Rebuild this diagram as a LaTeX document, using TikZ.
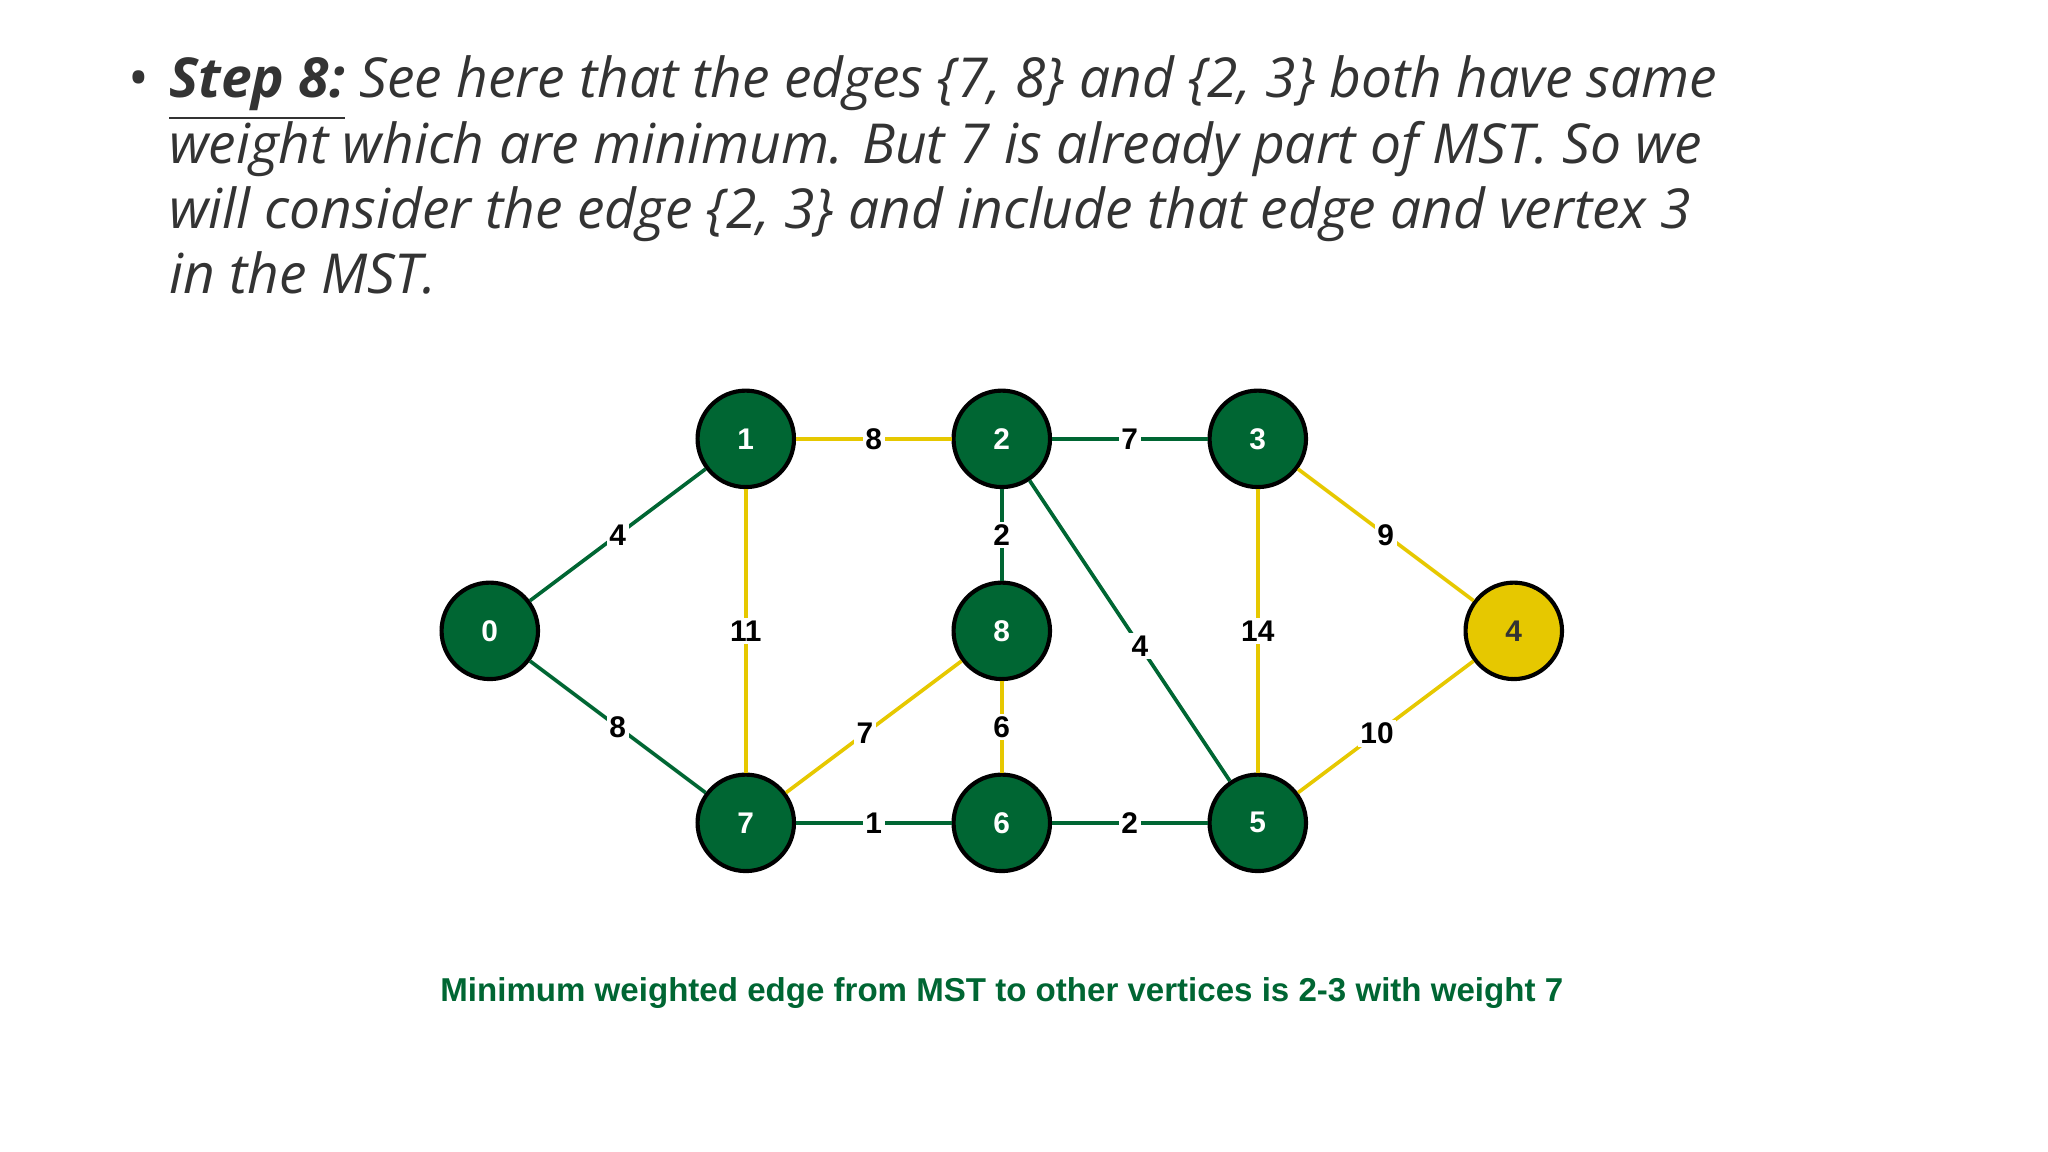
\documentclass[tikz,border=0pt]{standalone}
\usepackage{fontspec}
\setmainfont{Open Sans}
\newfontfamily\capfont{Liberation Sans}
\definecolor{eg}{RGB}{0,102,51}
\definecolor{ey}{RGB}{230,200,0}
\definecolor{tx}{RGB}{51,51,51}
\begin{document}
\begin{tikzpicture}[x=0.01cm,y=-0.01cm,
  vtx/.style={circle,draw=black,line width=0.9pt,fill=eg,minimum size=21pt,inner sep=0pt,text=white,font=\capfont\bfseries\fontsize{6.5}{7}\selectfont},
  gl/.style={draw=eg,line width=0.8pt},
  yl/.style={draw=ey,line width=0.8pt},
  wl/.style={fill=white,inner sep=0.6pt,font=\capfont\bfseries\fontsize{6.5}{7}\selectfont,text=black},
  tl/.style={anchor=base west,inner sep=0pt,text=tx,font=\itshape\fontsize{12}{14}\selectfont}]
\useasboundingbox (0,0) rectangle (1568,882);
\node[anchor=base west,inner sep=0pt,text=tx,font=\fontsize{12}{14}\selectfont] (b) at (98,75) {•};
\node[tl] (l1) at (129,75) {\underline{\textbf{Step 8:}} See here that the edges \{7, 8\} and \{2, 3\} both have same};
\node[tl] (l2) at (129,125) {weight which are minimum. But 7 is already part of MST. So we};
\node[tl] (l3) at (129,175) {will consider the edge \{2, 3\} and include that edge and vertex 3};
\node[tl] (l4) at (129,225) {in the MST.};
\node[vtx] (n0) at (375,483) {0};
\node[vtx] (n1) at (571,336) {1};
\node[vtx] (n2) at (767,336) {2};
\node[vtx] (n3) at (963,336) {3};
\node[vtx,fill=ey,text=black!80] (n4) at (1159,483) {4};
\node[vtx] (n8) at (767,483) {8};
\node[vtx] (n7) at (571,630) {7};
\node[vtx] (n6) at (767,630) {6};
\node[vtx] (n5) at (963,630) {5};
\draw[gl] (n0) -- node[wl]{4} (n1);
\draw[gl] (n0) -- node[wl]{8} (n7);
\draw[yl] (n1) -- node[wl]{8} (n2);
\draw[yl] (n1) -- node[wl]{11} (n7);
\draw[gl] (n2) -- node[wl]{7} (n3);
\draw[gl] (n2) -- node[wl]{2} (n8);
\draw[gl] (n2) -- node[wl,pos=0.55]{4} (n5);
\draw[yl] (n3) -- node[wl]{9} (n4);
\draw[yl] (n3) -- node[wl]{14} (n5);
\draw[yl] (n8) -- node[wl,pos=0.55]{7} (n7);
\draw[yl] (n8) -- node[wl]{6} (n6);
\draw[gl] (n7) -- node[wl]{1} (n6);
\draw[gl] (n6) -- node[wl]{2} (n5);
\draw[yl] (n5) -- node[wl,pos=0.45]{10} (n4);
\node[text=eg,font=\capfont\bfseries\fontsize{7.2}{9}\selectfont] (cap) at (767,760) {Minimum weighted edge from MST to other vertices is 2-3 with weight 7};
\end{tikzpicture}
\end{document}
